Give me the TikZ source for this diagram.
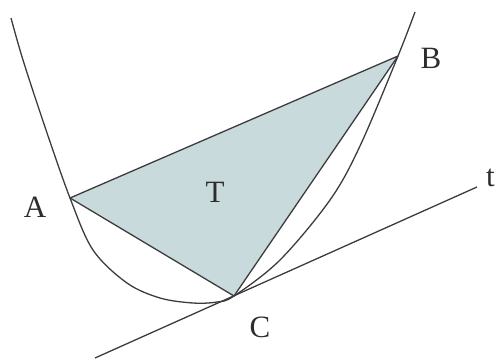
\documentclass[tikz,border=0pt]{standalone}
\usepackage{fontspec}
\setmainfont{Liberation Serif}
\definecolor{trifill}{RGB}{200,218,220}
\definecolor{ink}{RGB}{60,60,60}
\definecolor{lblink}{RGB}{45,45,45}
\begin{document}
\begin{tikzpicture}[x=1pt,y=1pt,
  curve/.style={draw=ink,line width=1.3pt},
  lbl/.style={font=\fontsize{31}{33}\selectfont,text=lblink,inner sep=0pt}]
\useasboundingbox (0,0) rectangle (496,362);
\coordinate (A) at (70,164);
\coordinate (B) at (398,306);
\coordinate (C) at (234,66);
\coordinate (t1) at (95,4);
\coordinate (t2) at (477,175);
\fill[trifill] (A) -- (B) -- (C) -- cycle;
\draw[curve] plot[smooth,tension=0.55] coordinates {(11,344) (23,302) (45,235) (A) (93,112) (127,79) (160,64) (193,59) (217,60) (C) (280,102) (330,162) (360,216) (B) (415,350)};
\draw[curve,line join=round] (A) -- (B) -- (C) -- cycle;
\draw[curve] (t1) -- (t2);
\node[lbl] (la) at (35,155) {A};
\node[lbl] (lb) at (431,304) {B};
\node[lbl] (lc) at (260,35) {C};
\node[lbl] (lt) at (215,170) {T};
\node[lbl,anchor=west] (ltt) at (486,184) {t};
\end{tikzpicture}
\end{document}
